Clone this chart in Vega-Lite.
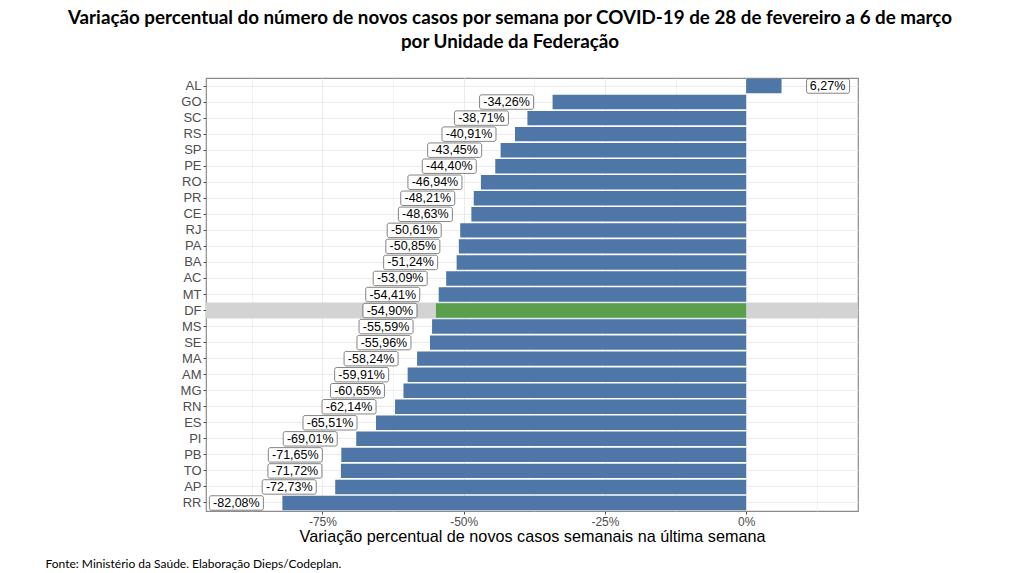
{
  "$schema": "https://vega.github.io/schema/vega-lite/v6.json",
  "width": 652,
  "height": 433,
  "autosize": {"type": "none"},
  "padding": {"left": 206, "top": 78, "right": 163, "bottom": 62},
  "background": "white",
  "title": {
    "text": ["Variação percentual do número de novos casos por semana por COVID-19 de 28 de fevereiro a 6 de março", "por Unidade da Federação"],
    "anchor": "middle",
    "frame": "group",
    "dx": -22,
    "offset": 26,
    "font": "Lato",
    "fontSize": 18.8,
    "fontWeight": "bold",
    "color": "black",
    "lineHeight": 24
  },
  "config": {
    "view": {"stroke": "#8c8c8c", "strokeWidth": 1.2},
    "font": "Liberation Sans"
  },
  "data": {
    "values": [
      {"uf": "AL", "valor": 6.27, "rotulo": "6,27%"},
      {"uf": "GO", "valor": -34.26, "rotulo": "-34,26%"},
      {"uf": "SC", "valor": -38.71, "rotulo": "-38,71%"},
      {"uf": "RS", "valor": -40.91, "rotulo": "-40,91%"},
      {"uf": "SP", "valor": -43.45, "rotulo": "-43,45%"},
      {"uf": "PE", "valor": -44.40, "rotulo": "-44,40%"},
      {"uf": "RO", "valor": -46.94, "rotulo": "-46,94%"},
      {"uf": "PR", "valor": -48.21, "rotulo": "-48,21%"},
      {"uf": "CE", "valor": -48.63, "rotulo": "-48,63%"},
      {"uf": "RJ", "valor": -50.61, "rotulo": "-50,61%"},
      {"uf": "PA", "valor": -50.85, "rotulo": "-50,85%"},
      {"uf": "BA", "valor": -51.24, "rotulo": "-51,24%"},
      {"uf": "AC", "valor": -53.09, "rotulo": "-53,09%"},
      {"uf": "MT", "valor": -54.41, "rotulo": "-54,41%"},
      {"uf": "DF", "valor": -54.90, "rotulo": "-54,90%"},
      {"uf": "MS", "valor": -55.59, "rotulo": "-55,59%"},
      {"uf": "SE", "valor": -55.96, "rotulo": "-55,96%"},
      {"uf": "MA", "valor": -58.24, "rotulo": "-58,24%"},
      {"uf": "AM", "valor": -59.91, "rotulo": "-59,91%"},
      {"uf": "MG", "valor": -60.65, "rotulo": "-60,65%"},
      {"uf": "RN", "valor": -62.14, "rotulo": "-62,14%"},
      {"uf": "ES", "valor": -65.51, "rotulo": "-65,51%"},
      {"uf": "PI", "valor": -69.01, "rotulo": "-69,01%"},
      {"uf": "PB", "valor": -71.65, "rotulo": "-71,65%"},
      {"uf": "TO", "valor": -71.72, "rotulo": "-71,72%"},
      {"uf": "AP", "valor": -72.73, "rotulo": "-72,73%"},
      {"uf": "RR", "valor": -82.08, "rotulo": "-82,08%"}
    ]
  },
  "encoding": {
    "y": {
      "field": "uf",
      "type": "nominal",
      "sort": ["AL","GO","SC","RS","SP","PE","RO","PR","CE","RJ","PA","BA","AC","MT","DF","MS","SE","MA","AM","MG","RN","ES","PI","PB","TO","AP","RR"],
      "scale": {"paddingInner": 0.1, "paddingOuter": 0.05},
      "axis": {
        "zindex": 0,
        "domain": false,
        "labelFontSize": 13,
        "labelColor": "#4d4d4d",
        "labelPadding": 2,
        "tickSize": 3,
        "tickColor": "#4d4d4d",
        "grid": true,
        "gridColor": "#ebebeb",
        "bandPosition": 0.5,
        "title": "Fonte:  Ministério da Saúde. Elaboração Dieps/Codeplan.",
        "titleAngle": 0,
        "titleX": -161,
        "titleY": 485,
        "titleAlign": "left",
        "titleBaseline": "middle",
        "titleFont": "Lato",
        "titleFontSize": 12,
        "titleFontWeight": "normal",
        "titleColor": "black"
      }
    },
    "x": {
      "field": "valor",
      "type": "quantitative",
      "scale": {"domain": [-95.6, 19.8], "nice": false, "zero": false},
      "axis": {
        "zindex": 0,
        "values": [-87.5, -75, -62.5, -50, -37.5, -25, -12.5, 0, 12.5],
        "labelExpr": "datum.value % 25 === 0 ? datum.value + '%' : ''",
        "domain": false,
        "grid": true,
        "gridColor": "#ebebeb",
        "gridWidth": {"condition": {"test": "datum.value % 25 === 0", "value": 1}, "value": 0.6},
        "tickOpacity": {"condition": {"test": "datum.value % 25 === 0", "value": 1}, "value": 0},
        "tickColor": "#4d4d4d",
        "tickSize": 3,
        "labelFontSize": 12,
        "labelColor": "#4d4d4d",
        "labelPadding": 2,
        "title": "Variação percentual de novos casos semanais na última semana",
        "titleFontSize": 16.2,
        "titleFontWeight": "normal",
        "titleColor": "black",
        "titlePadding": 1
      }
    }
  },
  "layer": [
    {
      "transform": [{"filter": "datum.uf === 'DF'"}],
      "mark": {"type": "rect", "color": "#d3d3d3", "height": {"band": 1.11}},
      "encoding": {"x": {"value": 0}, "x2": {"value": "width"}}
    },
    {
      "mark": {"type": "bar"},
      "encoding": {
        "color": {"condition": {"test": "datum.uf === 'DF'", "value": "#5aa04c"}, "value": "#4e76a6"}
      }
    },
    {
      "transform": [{"filter": "datum.valor < 0"}],
      "mark": {"type": "bar", "fill": "white", "stroke": "#333333", "strokeWidth": 0.6, "cornerRadius": 2, "xOffset": -73, "x2Offset": -19},
      "encoding": {"x2": {"field": "valor"}}
    },
    {
      "transform": [{"filter": "datum.valor < 0"}],
      "mark": {"type": "text", "dx": -46, "align": "center", "baseline": "middle", "fontSize": 12.5, "color": "black"},
      "encoding": {"text": {"field": "rotulo"}}
    },
    {
      "transform": [{"filter": "datum.valor > 0"}],
      "mark": {"type": "bar", "fill": "white", "stroke": "#333333", "strokeWidth": 0.6, "cornerRadius": 2, "xOffset": 25, "x2Offset": 68},
      "encoding": {"x2": {"field": "valor"}}
    },
    {
      "transform": [{"filter": "datum.valor > 0"}],
      "mark": {"type": "text", "dx": 46, "align": "center", "baseline": "middle", "fontSize": 12.5, "color": "black"},
      "encoding": {"text": {"field": "rotulo"}}
    }
  ]
}
